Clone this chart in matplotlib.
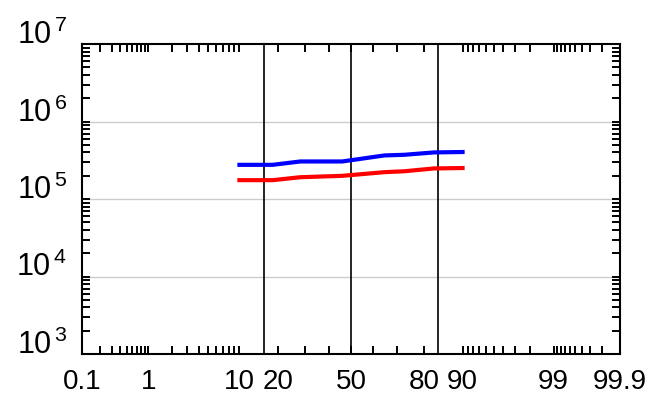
from statistics import NormalDist
import matplotlib
matplotlib.use("Agg")
import matplotlib.pyplot as plt
from matplotlib.ticker import FixedLocator, NullFormatter

plt.rcParams['font.family'] = ['Liberation Sans', 'DejaVu Sans']
plt.rcParams['mathtext.fontset'] = 'custom'
plt.rcParams['mathtext.rm'] = 'Liberation Sans'
plt.rcParams['mathtext.it'] = 'Liberation Sans:italic'
plt.rcParams['mathtext.bf'] = 'Liberation Sans:bold'

# data (cumulative probability in percent)
pct = [10, 18.4, 28, 46, 65, 73, 83, 90]
blue_vals = [2.76e5, 2.76e5, 3.05e5, 3.05e5, 3.65e5, 3.72e5, 3.99e5, 4.04e5]
red_vals = [1.75e5, 1.75e5, 1.91e5, 1.99e5, 2.22e5, 2.28e5, 2.48e5, 2.51e5]

x_labels = ['0.1', '1', '10', '20', '50', '80', '90', '99', '99.9']
x_minor = ([0.2, 0.3, 0.4, 0.5, 0.6, 0.7, 0.8, 0.9] + list(range(2, 10)) +
           [30, 40, 60, 70] + list(range(91, 99)) +
           [99.1, 99.2, 99.3, 99.4, 99.5, 99.6, 99.7, 99.8])
y_decades = [3, 4, 5, 6, 7]

nd = NormalDist()


def z(p):
    return nd.inv_cdf(p / 100.0)


fig = plt.figure(figsize=(6.51, 3.96), dpi=100)
ax = fig.add_axes([82 / 651, 42 / 396, 538 / 651, 310 / 396])

ax.set_yscale('log')
ax.set_ylim(1e3, 1e7)
ax.set_xlim(z(0.1), z(99.9))

# gridlines at decades and sigma lines
for d in y_decades[1:-1]:
    ax.axhline(10.0 ** d, color='#cccccc', lw=1.0, zorder=1)
for s in [-1, 0, 1]:
    ax.axvline(s, color='black', lw=1.2, zorder=1)

ax.plot([z(p) for p in pct], blue_vals, color='blue', lw=3, zorder=3)
ax.plot([z(p) for p in pct], red_vals, color='red', lw=3, zorder=3)

ax.set_xticks([z(float(v)) for v in x_labels], labels=x_labels, fontsize=20)
ax.xaxis.set_minor_locator(FixedLocator([z(v) for v in x_minor]))

ax.set_yticks([10.0 ** d for d in y_decades],
              labels=[r'$10^{\,%d}$' % d for d in y_decades],
              fontsize=22, va='baseline')
ax.yaxis.set_minor_formatter(NullFormatter())

ax.tick_params(which='both', direction='in', top=True, right=True,
               length=6, width=1.4)
ax.tick_params(axis='x', pad=11)
ax.tick_params(axis='y', pad=11)
for sp in ax.spines.values():
    sp.set_linewidth(1.5)

fig.savefig('out.png', dpi=100)
